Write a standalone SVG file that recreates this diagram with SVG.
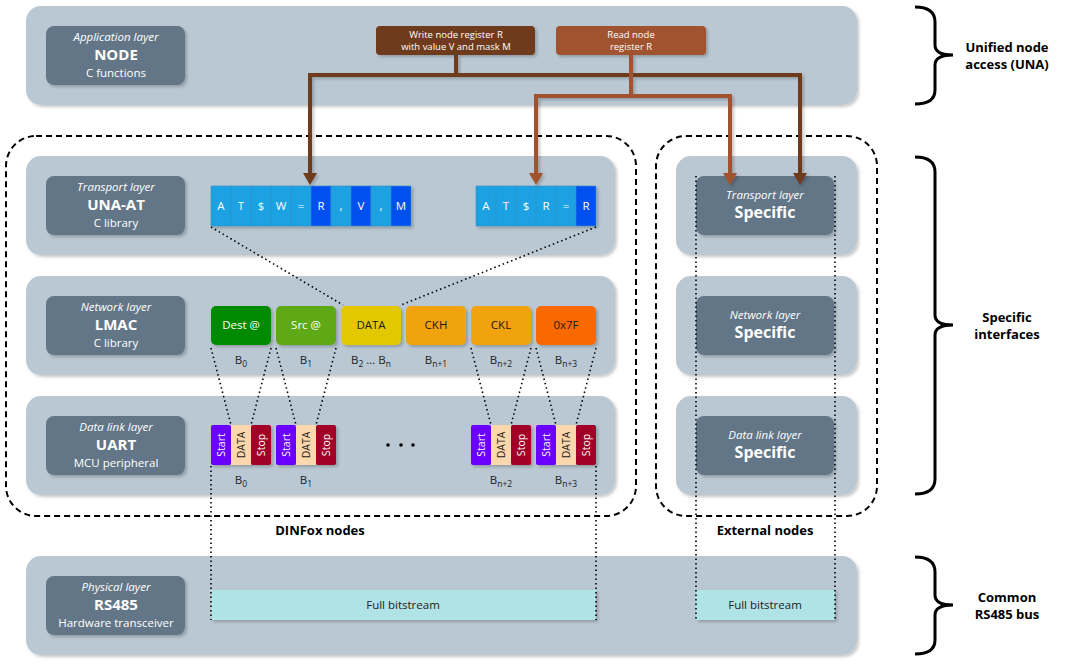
<svg xmlns="http://www.w3.org/2000/svg" width="1066" height="664" viewBox="0 0 1066 664">
<style>
text{font-family:"Open Sans","Noto Sans","DejaVu Sans",sans-serif}
.panel{fill:#bac8d3}
.box{fill:#647687}
.it{font-style:italic;font-size:11.5px;fill:#fff;text-anchor:middle}
.bd{font-weight:bold;font-size:15px;fill:#fff;text-anchor:middle}
.rg{font-size:11.5px;fill:#fff;text-anchor:middle}
.lbl{font-weight:bold;font-size:13px;fill:#000;text-anchor:middle}
.cell{stroke:#3a8fc4;stroke-width:0.6}
.ct{font-size:11.5px;fill:#fff;text-anchor:middle}
.nt{font-size:11.5px;text-anchor:middle}
.bt{font-size:11.5px;fill:#222;text-anchor:middle}
.sub{font-size:8.5px}
.ut{font-size:10.5px;text-anchor:middle}
.dot{fill:none;stroke:#000;stroke-width:1.6;stroke-dasharray:1.5 3}
.dash{fill:none;stroke:#000;stroke-width:2;stroke-dasharray:6 4}
.brace{fill:none;stroke:#000;stroke-width:3}
.sh{filter:url(#shadow)}
</style>
<defs>
<filter id="shadow" x="-10%" y="-10%" width="130%" height="140%">
<feDropShadow dx="2" dy="2" stdDeviation="1.5" flood-color="#000" flood-opacity="0.22"/>
</filter>
<marker id="ahW" markerUnits="userSpaceOnUse" markerWidth="14" markerHeight="14" refX="0" refY="7" orient="auto" viewBox="0 0 14 14">
<path d="M0,0 L12,7 L0,14 z" fill="#6e3a1f"/>
</marker>
<marker id="ahR" markerUnits="userSpaceOnUse" markerWidth="14" markerHeight="14" refX="0" refY="7" orient="auto" viewBox="0 0 14 14">
<path d="M0,0 L12,7 L0,14 z" fill="#a0522d"/>
</marker>
</defs>

<g id="panels" class="sh">
<rect class="panel" x="26" y="6" width="831" height="99" rx="15"/>
<rect class="panel" x="26" y="156" width="589" height="99" rx="15"/>
<rect class="panel" x="26" y="276" width="589" height="99" rx="15"/>
<rect class="panel" x="26" y="396" width="589" height="99" rx="15"/>
<rect class="panel" x="26" y="556" width="831" height="99" rx="15"/>
<rect class="panel" x="676" y="156" width="181" height="99" rx="15"/>
<rect class="panel" x="676" y="276" width="181" height="99" rx="15"/>
<rect class="panel" x="676" y="396" width="181" height="99" rx="15"/>
</g>

<g id="node-app">
<rect class="box sh" x="46" y="26" width="139" height="59" rx="8"/>
<text class="it" x="116" y="41">Application layer</text>
<text class="bd" x="116" y="60">NODE</text>
<text class="rg" x="116" y="77">C functions</text>
</g>
<g id="node-transport">
<rect class="box sh" x="46" y="176" width="139" height="59" rx="8"/>
<text class="it" x="116" y="191">Transport layer</text>
<text class="bd" x="116" y="210">UNA-AT</text>
<text class="rg" x="116" y="227">C library</text>
</g>
<g id="node-network">
<rect class="box sh" x="46" y="296" width="139" height="59" rx="8"/>
<text class="it" x="116" y="311">Network layer</text>
<text class="bd" x="116" y="330">LMAC</text>
<text class="rg" x="116" y="347">C library</text>
</g>
<g id="node-datalink">
<rect class="box sh" x="46" y="416" width="139" height="59" rx="8"/>
<text class="it" x="116" y="431">Data link layer</text>
<text class="bd" x="116" y="450">UART</text>
<text class="rg" x="116" y="467">MCU peripheral</text>
</g>
<g id="node-physical">
<rect class="box sh" x="46" y="576" width="139" height="59" rx="8"/>
<text class="it" x="116" y="591">Physical layer</text>
<text class="bd" x="116" y="610">RS485</text>
<text class="rg" x="116" y="627">Hardware transceiver</text>
</g>

<g id="node-ext-transport">
<rect class="box sh" x="696" y="176" width="138" height="59" rx="8"/>
<text class="it" x="765" y="199">Transport layer</text>
<text class="bd" x="765" y="218" style="font-size:16px">Specific</text>
</g>
<g id="node-ext-network">
<rect class="box sh" x="696" y="296" width="138" height="59" rx="8"/>
<text class="it" x="765" y="319">Network layer</text>
<text class="bd" x="765" y="338" style="font-size:16px">Specific</text>
</g>
<g id="node-ext-datalink">
<rect class="box sh" x="696" y="416" width="138" height="59" rx="8"/>
<text class="it" x="765" y="439">Data link layer</text>
<text class="bd" x="765" y="458" style="font-size:16px">Specific</text>
</g>

<g id="node-write">
<rect class="sh" x="376" y="26" width="159" height="29" rx="4" fill="#6e3a1f"/>
<text class="ct" x="456" y="38" style="font-size:9.5px">Write node register R</text>
<text class="ct" x="456" y="50" style="font-size:9.5px">with value V and mask M</text>
</g>
<g id="node-read">
<rect class="sh" x="556" y="26" width="150" height="29" rx="4" fill="#a0522d"/>
<text class="ct" x="631" y="38" style="font-size:9.5px">Read node</text>
<text class="ct" x="631" y="50" style="font-size:9.5px">register R</text>
</g>

<g id="node-at-write" class="sh">
<rect class="cell" x="211" y="186" width="20" height="40" fill="#1ba1e2"/>
<rect class="cell" x="231" y="186" width="20" height="40" fill="#1ba1e2"/>
<rect class="cell" x="251" y="186" width="20" height="40" fill="#1ba1e2"/>
<rect class="cell" x="271" y="186" width="20" height="40" fill="#1ba1e2"/>
<rect class="cell" x="291" y="186" width="20" height="40" fill="#1ba1e2"/>
<rect class="cell" x="311" y="186" width="20" height="40" fill="#0050ef"/>
<rect class="cell" x="331" y="186" width="20" height="40" fill="#1ba1e2"/>
<rect class="cell" x="351" y="186" width="20" height="40" fill="#0050ef"/>
<rect class="cell" x="371" y="186" width="20" height="40" fill="#1ba1e2"/>
<rect class="cell" x="391" y="186" width="20" height="40" fill="#0050ef"/>
</g>
<g id="at-write-text">
<text class="ct" x="221" y="210">A</text>
<text class="ct" x="241" y="210">T</text>
<text class="ct" x="261" y="210">$</text>
<text class="ct" x="281" y="210">W</text>
<text class="ct" x="301" y="210">=</text>
<text class="ct" x="321" y="210">R</text>
<text class="ct" x="341" y="210">,</text>
<text class="ct" x="361" y="210">V</text>
<text class="ct" x="381" y="210">,</text>
<text class="ct" x="401" y="210">M</text>
</g>
<g id="node-at-read" class="sh">
<rect class="cell" x="476" y="186" width="20" height="40" fill="#1ba1e2"/>
<rect class="cell" x="496" y="186" width="20" height="40" fill="#1ba1e2"/>
<rect class="cell" x="516" y="186" width="20" height="40" fill="#1ba1e2"/>
<rect class="cell" x="536" y="186" width="20" height="40" fill="#1ba1e2"/>
<rect class="cell" x="556" y="186" width="20" height="40" fill="#1ba1e2"/>
<rect class="cell" x="576" y="186" width="20" height="40" fill="#0050ef"/>
</g>
<g id="at-read-text">
<text class="ct" x="486" y="210">A</text>
<text class="ct" x="506" y="210">T</text>
<text class="ct" x="526" y="210">$</text>
<text class="ct" x="546" y="210">R</text>
<text class="ct" x="566" y="210">=</text>
<text class="ct" x="586" y="210">R</text>
</g>

<g id="node-frame">
<rect class="sh" x="211" y="306" width="60" height="39" rx="5" fill="#008a00"/>
<text class="nt" x="241" y="329" fill="#fff">Dest @</text>
<rect class="sh" x="276" y="306" width="60" height="39" rx="5" fill="#60a917"/>
<text class="nt" x="306" y="329" fill="#fff">Src @</text>
<rect class="sh" x="341" y="306" width="60" height="39" rx="5" fill="#e3c800"/>
<text class="nt" x="371" y="329" fill="#1a1a1a">DATA</text>
<rect class="sh" x="406" y="306" width="60" height="39" rx="5" fill="#f0a30a"/>
<text class="nt" x="436" y="329" fill="#1a1a1a">CKH</text>
<rect class="sh" x="471" y="306" width="60" height="39" rx="5" fill="#f0a30a"/>
<text class="nt" x="501" y="329" fill="#1a1a1a">CKL</text>
<rect class="sh" x="536" y="306" width="60" height="39" rx="5" fill="#fa6800"/>
<text class="nt" x="566" y="329" fill="#1a1a1a">0x7F</text>
<text class="bt" x="241" y="364">B<tspan class="sub" dy="3">0</tspan></text>
<text class="bt" x="306" y="364">B<tspan class="sub" dy="3">1</tspan></text>
<text class="bt" x="371" y="364">B<tspan class="sub" dy="3">2</tspan><tspan dy="-3"> … B</tspan><tspan class="sub" dy="3">n</tspan></text>
<text class="bt" x="436" y="364">B<tspan class="sub" dy="3">n+1</tspan></text>
<text class="bt" x="501" y="364">B<tspan class="sub" dy="3">n+2</tspan></text>
<text class="bt" x="566" y="364">B<tspan class="sub" dy="3">n+3</tspan></text>
</g>

<g id="node-uart">
<g class="sh">
<rect x="211" y="425" width="20" height="40" rx="2" fill="#6a00ff"/>
<rect x="231" y="425" width="20" height="40" fill="#fad7ac"/>
<rect x="251" y="425" width="20" height="40" rx="2" fill="#a20025"/>
<rect x="276" y="425" width="20" height="40" rx="2" fill="#6a00ff"/>
<rect x="296" y="425" width="20" height="40" fill="#fad7ac"/>
<rect x="316" y="425" width="20" height="40" rx="2" fill="#a20025"/>
<rect x="471" y="425" width="20" height="40" rx="2" fill="#6a00ff"/>
<rect x="491" y="425" width="20" height="40" fill="#fad7ac"/>
<rect x="511" y="425" width="20" height="40" rx="2" fill="#a20025"/>
<rect x="536" y="425" width="20" height="40" rx="2" fill="#6a00ff"/>
<rect x="556" y="425" width="20" height="40" fill="#fad7ac"/>
<rect x="576" y="425" width="20" height="40" rx="2" fill="#a20025"/>
</g>
<text class="ut" fill="#fff" transform="translate(225,445) rotate(-90)">Start</text>
<text class="ut" fill="#1a1a1a" transform="translate(245,445) rotate(-90)">DATA</text>
<text class="ut" fill="#fff" transform="translate(265,445) rotate(-90)">Stop</text>
<text class="ut" fill="#fff" transform="translate(290,445) rotate(-90)">Start</text>
<text class="ut" fill="#1a1a1a" transform="translate(310,445) rotate(-90)">DATA</text>
<text class="ut" fill="#fff" transform="translate(330,445) rotate(-90)">Stop</text>
<text class="ut" fill="#fff" transform="translate(485,445) rotate(-90)">Start</text>
<text class="ut" fill="#1a1a1a" transform="translate(505,445) rotate(-90)">DATA</text>
<text class="ut" fill="#fff" transform="translate(525,445) rotate(-90)">Stop</text>
<text class="ut" fill="#fff" transform="translate(550,445) rotate(-90)">Start</text>
<text class="ut" fill="#1a1a1a" transform="translate(570,445) rotate(-90)">DATA</text>
<text class="ut" fill="#fff" transform="translate(590,445) rotate(-90)">Stop</text>
<circle cx="388" cy="445" r="1.8" fill="#000"/>
<circle cx="401" cy="445" r="1.8" fill="#000"/>
<circle cx="413" cy="445" r="1.8" fill="#000"/>
<text class="bt" x="241" y="484">B<tspan class="sub" dy="3">0</tspan></text>
<text class="bt" x="306" y="484">B<tspan class="sub" dy="3">1</tspan></text>
<text class="bt" x="501" y="484">B<tspan class="sub" dy="3">n+2</tspan></text>
<text class="bt" x="566" y="484">B<tspan class="sub" dy="3">n+3</tspan></text>
</g>

<g id="node-bitstream">
<rect class="sh" x="211" y="590" width="385" height="30" fill="#b0e3e6"/>
<text class="bt" x="403" y="609">Full bitstream</text>
<rect class="sh" x="696" y="590" width="139" height="30" fill="#b0e3e6"/>
<text class="bt" x="765" y="609">Full bitstream</text>
</g>

<g id="group-dinfox">
<rect class="dash" x="6" y="136" width="630" height="380" rx="30"/>
<text class="lbl" x="320" y="535">DINFox nodes</text>
</g>
<g id="group-external">
<rect class="dash" x="656" y="136" width="221" height="380" rx="30"/>
<text class="lbl" x="765" y="535">External nodes</text>
</g>

<g id="brace-una">
<path class="brace" d="M915,7 Q935,7 935,22 V45 Q935,55 953,55 Q935,55 935,65 V90 Q935,104 915,104"/>
<text class="lbl" x="1007" y="52">Unified node</text>
<text class="lbl" x="1007" y="69">access (UNA)</text>
</g>
<g id="brace-specific">
<path class="brace" d="M915,157 Q935,157 935,172 V315 Q935,325 953,325 Q935,325 935,335 V479 Q935,494 915,494"/>
<text class="lbl" x="1007" y="322">Specific</text>
<text class="lbl" x="1007" y="339">interfaces</text>
</g>
<g id="brace-common">
<path class="brace" d="M915,557 Q935,557 935,572 V595 Q935,605 953,605 Q935,605 935,615 V640 Q935,654 915,654"/>
<text class="lbl" x="1007" y="602">Common</text>
<text class="lbl" x="1007" y="619">RS485 bus</text>
</g>

<g id="connectors">
<g class="sh">
<path d="M456,55 V75 H310 V173" fill="none" stroke="#6e3a1f" stroke-width="4" marker-end="url(#ahW)"/>
<path d="M456,55 V75 H800 V173" fill="none" stroke="#6e3a1f" stroke-width="4" marker-end="url(#ahW)"/>
<path d="M631,55 V96 H536 V173" fill="none" stroke="#a0522d" stroke-width="4" marker-end="url(#ahR)"/>
<path d="M631,55 V96 H730 V173" fill="none" stroke="#a0522d" stroke-width="4" marker-end="url(#ahR)"/>
</g>
<path class="dot" d="M211,227 L343,305"/>
<path class="dot" d="M596,227 L401,305"/>
<path class="dot" d="M211,348 L231,425"/>
<path class="dot" d="M271,348 L251,425"/>
<path class="dot" d="M276,348 L296,425"/>
<path class="dot" d="M336,348 L316,425"/>
<path class="dot" d="M471,348 L491,425"/>
<path class="dot" d="M531,348 L511,425"/>
<path class="dot" d="M536,348 L556,425"/>
<path class="dot" d="M596,348 L576,425"/>
<path class="dot" d="M211,466 V620"/>
<path class="dot" d="M596,466 V620"/>
<path class="dot" d="M696,176 V620"/>
<path class="dot" d="M835,176 V620"/>
</g>
</svg>
